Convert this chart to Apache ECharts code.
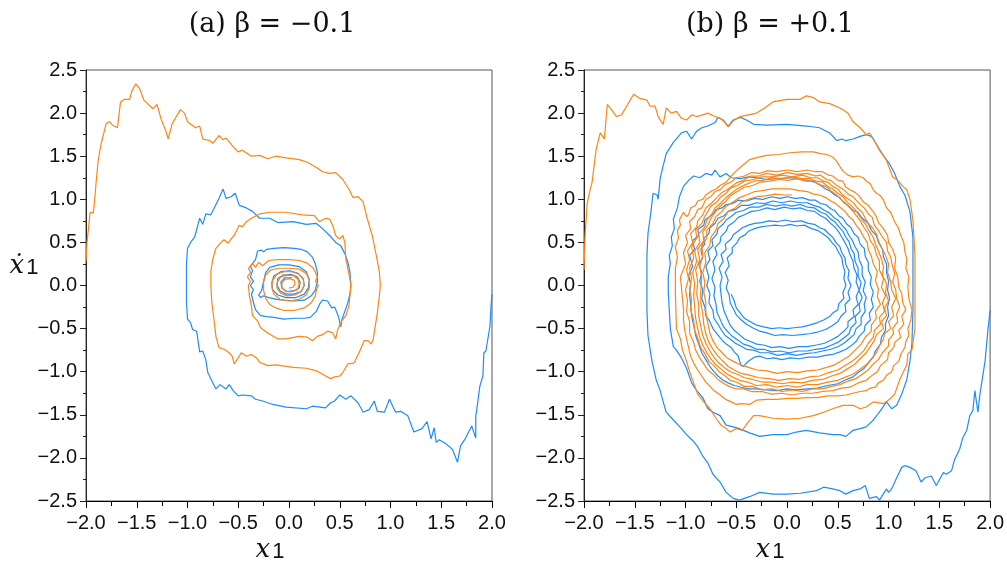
<!DOCTYPE html>
<html>
<head>
<meta charset="utf-8">
<script src="https://cdn.jsdelivr.net/npm/echarts@6/dist/echarts.min.js"></script>
<style>
  html, body { margin: 0; padding: 0; background: #fff; }
  #chart { width: 1007px; height: 569px; }
</style>
</head>
<body>
<div id="chart"></div>
<script>
// axis ticks
var xTicks = [-2.0, -1.5, -1.0, -0.5, 0.0, 0.5, 1.0, 1.5, 2.0];
var yTicks = [-2.5, -2.0, -1.5, -1.0, -0.5, 0.0, 0.5, 1.0, 1.5, 2.0, 2.5];
var panelTitles = ['(a) β = −0.1', '(b) β = +0.1'];

// (a) beta = -0.1, orange trajectory (x1, dx1)
var aOrange = [
  [-2.0,0.28],[-1.99,0.5],[-1.97,0.72],[-1.96,0.85],[-1.93,0.84],[-1.92,0.92],[-1.9,1.2],[-1.88,1.45],[-1.85,1.65],[-1.8,1.88],[-1.77,1.9],[-1.74,1.86],[-1.69,1.83],[-1.66,2.13],[-1.62,2.16],[-1.57,2.16],[-1.55,2.25],[-1.51,2.34],[-1.47,2.28],[-1.43,2.15],[-1.34,2.05],[-1.3,2.1],[-1.26,1.93],[-1.21,1.78],[-1.19,1.7],[-1.15,1.88],[-1.07,2.04],[-1.03,2.0],[-1.0,1.9],[-0.92,1.83],[-0.88,1.85],[-0.85,1.7],[-0.78,1.68],[-0.75,1.65],[-0.69,1.74],[-0.65,1.69],[-0.62,1.71],[-0.55,1.61],[-0.5,1.55],[-0.46,1.57],[-0.37,1.5],[-0.29,1.51],[-0.21,1.47],[-0.13,1.5],[-0.03,1.48],[0.1,1.46],[0.18,1.43],[0.27,1.37],[0.33,1.32],[0.4,1.3],[0.46,1.31],[0.53,1.23],[0.59,1.12],[0.63,1.02],[0.68,1.03],[0.73,0.97],[0.77,0.78],[0.82,0.58],[0.86,0.35],[0.89,0.16],[0.9,0.0],
  [0.89,-0.12],[0.87,-0.32],[0.83,-0.62],[0.81,-0.68],[0.78,-0.64],[0.74,-0.64],[0.69,-0.78],[0.64,-0.9],[0.58,-0.91],[0.53,-1.01],[0.5,-1.05],[0.45,-1.06],[0.41,-1.08],[0.36,-1.05],[0.3,-1.01],[0.27,-0.99],[0.17,-0.96],[0.04,-0.95],[-0.13,-0.92],[-0.21,-0.93],[-0.29,-0.89],[-0.32,-0.84],[-0.37,-0.8],[-0.42,-0.82],[-0.47,-0.78],[-0.5,-0.84],[-0.54,-0.91],[-0.56,-0.82],[-0.59,-0.78],[-0.64,-0.74],[-0.69,-0.72],[-0.72,-0.59],[-0.74,-0.39],[-0.76,-0.2],[-0.77,0.0],
  [-0.77,0.16],[-0.75,0.31],[-0.72,0.43],[-0.67,0.5],[-0.64,0.53],[-0.6,0.49],[-0.57,0.54],[-0.54,0.58],[-0.49,0.7],[-0.46,0.68],[-0.42,0.74],[-0.37,0.78],[-0.29,0.83],[-0.19,0.85],[-0.03,0.85],[0.13,0.82],[0.25,0.81],[0.3,0.74],[0.36,0.78],[0.4,0.77],[0.43,0.7],[0.46,0.58],[0.5,0.54],[0.53,0.58],[0.55,0.5],[0.56,0.31],[0.6,0.08],[0.61,-0.01],[0.59,-0.24],[0.56,-0.35],[0.52,-0.41],[0.48,-0.51],[0.46,-0.62],[0.43,-0.55],[0.38,-0.53],[0.33,-0.57],[0.28,-0.59],[0.23,-0.64],[0.18,-0.6],[0.1,-0.59],[-0.03,-0.62],[-0.11,-0.62],[-0.21,-0.55],[-0.28,-0.49],[-0.31,-0.41],[-0.36,-0.35],[-0.37,-0.24],[-0.39,-0.12],[-0.4,0.0],
  [-0.38,0.05],[-0.41,0.1],[-0.38,0.15],[-0.4,0.2],[-0.36,0.26],[-0.33,0.21],[-0.3,0.27],[-0.26,0.23],[-0.2,0.29],[-0.12,0.3],[0.0,0.3],[0.1,0.29],[0.18,0.26],[0.24,0.2],[0.26,0.15],[0.28,0.1],[0.26,0.05],[0.29,0.0],[0.27,-0.05],[0.26,-0.12],[0.22,-0.2],[0.15,-0.26],[0.05,-0.29],[-0.05,-0.29],[-0.13,-0.26],[-0.19,-0.22],[-0.23,-0.15],[-0.25,-0.06],
  [-0.25,0.04],[-0.23,0.12],[-0.18,0.18],[-0.1,0.2],[0.0,0.2],[0.1,0.19],[0.17,0.14],[0.2,0.06],[0.2,-0.03],[0.17,-0.11],[0.1,-0.16],[0.0,-0.18],[-0.09,-0.16],[-0.15,-0.1],[-0.17,-0.02],
  [-0.16,0.06],[-0.12,0.13],[-0.05,0.16],[0.03,0.16],[0.1,0.13],[0.14,0.07],[0.15,0.0],[0.12,-0.07],[0.06,-0.11],[-0.02,-0.12],[-0.08,-0.09],[-0.12,-0.03],
  [-0.11,0.05],[-0.08,0.1],[-0.02,0.12],[0.05,0.11],[0.09,0.07],[0.1,0.01],[0.08,-0.05],[0.03,-0.07],[-0.03,-0.07],[-0.07,-0.03],[-0.07,0.03],[-0.04,0.07],[0.01,0.08],[0.05,0.06],[0.06,0.02],[0.04,-0.02],[0.0,-0.03]
];

// (a) beta = -0.1, blue trajectory
var aBlue = [
  [2.0,-0.1],[1.99,-0.24],[1.98,-0.47],[1.94,-0.76],[1.92,-0.78],[1.91,-1.05],[1.88,-1.17],[1.86,-1.35],[1.84,-1.52],[1.84,-1.77],[1.8,-1.63],[1.74,-1.77],[1.69,-1.86],[1.66,-2.05],[1.61,-1.9],[1.55,-1.84],[1.48,-1.79],[1.45,-1.82],[1.43,-1.65],[1.4,-1.78],[1.36,-1.58],[1.31,-1.66],[1.23,-1.7],[1.17,-1.51],[1.1,-1.46],[1.05,-1.47],[0.99,-1.32],[0.94,-1.47],[0.87,-1.46],[0.84,-1.34],[0.79,-1.44],[0.73,-1.47],[0.68,-1.36],[0.61,-1.28],[0.56,-1.32],[0.5,-1.27],[0.45,-1.34],[0.41,-1.36],[0.36,-1.42],[0.23,-1.4],[0.17,-1.43],[-0.03,-1.41],[-0.16,-1.38],[-0.26,-1.34],[-0.33,-1.32],[-0.37,-1.28],[-0.46,-1.27],[-0.5,-1.28],[-0.55,-1.22],[-0.59,-1.15],[-0.62,-1.2],[-0.68,-1.15],[-0.72,-1.2],[-0.75,-1.13],[-0.8,-1.01],[-0.82,-0.86],[-0.85,-0.76],[-0.88,-0.77],[-0.91,-0.53],[-0.95,-0.51],[-0.97,-0.43],[-1.0,-0.39],[-1.01,-0.2],[-1.01,0.0],
  [-1.01,0.25],[-1.0,0.43],[-0.97,0.5],[-0.93,0.56],[-0.88,0.78],[-0.85,0.71],[-0.82,0.83],[-0.77,0.82],[-0.74,0.89],[-0.69,1.01],[-0.65,1.12],[-0.62,1.01],[-0.57,1.03],[-0.53,1.07],[-0.49,0.93],[-0.42,0.9],[-0.36,0.86],[-0.29,0.78],[-0.19,0.78],[-0.11,0.73],[0.04,0.74],[0.17,0.71],[0.27,0.72],[0.33,0.66],[0.4,0.58],[0.46,0.5],[0.51,0.46],[0.55,0.37],[0.58,0.27],[0.6,0.16],[0.61,0.0],
  [0.6,-0.1],[0.58,-0.2],[0.55,-0.3],[0.52,-0.4],[0.51,-0.48],[0.49,-0.37],[0.45,-0.25],[0.42,-0.26],[0.38,-0.18],[0.33,-0.17],[0.3,-0.22],[0.27,-0.3],[0.21,-0.37],[0.15,-0.38],[0.05,-0.38],[-0.05,-0.39],[-0.15,-0.37],[-0.22,-0.36],[-0.28,-0.35],[-0.33,-0.28],[-0.35,-0.2],
  [-0.37,-0.1],[-0.35,-0.05],[-0.38,0.0],[-0.35,0.05],[-0.38,0.1],[-0.36,0.17],[-0.38,0.22],[-0.35,0.27],[-0.33,0.3],[-0.32,0.35],[-0.31,0.4],[-0.27,0.41],[-0.25,0.39],[-0.22,0.42],[-0.15,0.43],[-0.05,0.44],[0.05,0.43],[0.12,0.42],[0.18,0.39],[0.23,0.33],[0.26,0.25],[0.28,0.15],[0.28,0.05],[0.26,-0.05],[0.22,-0.12],[0.15,-0.17],[0.05,-0.18],[-0.05,-0.17],[-0.12,-0.16],[-0.2,-0.14],[-0.25,-0.12],[-0.28,-0.14],[-0.3,-0.11],[-0.27,-0.06],
  [-0.25,0.05],[-0.23,0.15],[-0.19,0.21],[-0.1,0.24],[0.0,0.24],[0.1,0.22],[0.17,0.16],[0.2,0.07],[0.19,-0.03],[0.15,-0.1],[0.07,-0.14],[-0.03,-0.14],[-0.11,-0.11],[-0.16,-0.05],
  [-0.17,0.03],[-0.15,0.11],[-0.08,0.16],[0.01,0.17],[0.09,0.14],[0.14,0.08],[0.15,0.0],[0.12,-0.07],[0.05,-0.1],[-0.03,-0.1],[-0.09,-0.06],[-0.12,0.01],
  [-0.11,0.08],[-0.06,0.12],[0.02,0.13],[0.08,0.1],[0.11,0.04],[0.1,-0.03],[0.05,-0.06],[-0.02,-0.07],[-0.07,-0.03],[-0.08,0.04],[-0.04,0.09],[0.03,0.09]
];

// (b) beta = +0.1, orange trajectory
var bOrange = [
  [-2.0,0.18],[-1.99,0.56],[-1.97,0.94],[-1.94,1.11],[-1.92,1.2],[-1.88,1.58],[-1.84,1.77],[-1.8,1.7],[-1.77,2.1],[-1.73,2.04],[-1.68,1.96],[-1.63,1.98],[-1.58,2.08],[-1.51,2.22],[-1.45,2.17],[-1.38,2.15],[-1.35,2.08],[-1.3,2.08],[-1.27,1.96],[-1.22,1.87],[-1.19,2.06],[-1.14,2.0],[-1.09,2.02],[-1.04,1.94],[-0.99,1.92],[-0.94,1.98],[-0.89,1.96],[-0.83,1.98],[-0.78,2.0],[-0.71,1.96],[-0.66,1.94],[-0.61,1.89],[-0.58,1.84],[-0.53,1.91],[-0.46,1.96],[-0.38,1.98],[-0.3,2.0],[-0.22,2.06],[-0.14,2.13],[0.0,2.16],[0.13,2.16],[0.19,2.2],[0.26,2.18],[0.32,2.13],[0.42,2.11],[0.52,2.06],[0.6,2.0],[0.65,1.9],[0.72,1.83],[0.78,1.75],[0.81,1.77],[0.85,1.7],[0.91,1.57],[0.98,1.45],[1.04,1.26],[1.09,1.22],[1.14,1.15],[1.18,1.11],[1.21,1.0],[1.24,0.76],[1.26,0.35],[1.26,-0.07],[1.26,-0.5],[1.23,-0.75],[1.19,-0.79],[1.18,-0.92],[1.11,-1.09],[1.06,-1.26],[1.01,-1.32],[0.95,-1.37],[0.85,-1.35],[0.78,-1.41],[0.72,-1.43],[0.65,-1.39],[0.55,-1.39],[0.45,-1.43],[0.36,-1.47],[0.26,-1.51],[0.13,-1.54],[0.0,-1.55],[-0.14,-1.54],[-0.27,-1.51],[-0.33,-1.51],[-0.4,-1.61],[-0.44,-1.68],[-0.5,-1.66],[-0.56,-1.7],[-0.6,-1.66],[-0.65,-1.62],[-0.7,-1.54],[-0.76,-1.43],[-0.82,-1.35],[-0.88,-1.26],[-0.92,-1.13],[-0.96,-1.0],[-0.99,-0.88],[-1.03,-0.75],[-1.05,-0.62],[-1.09,-0.5],[-1.1,-0.07],
  [-1.1,0.2],[-1.08,0.33],[-1.1,0.45],[-1.07,0.55],[-1.08,0.64],[-1.05,0.7],[-1.06,0.76],[-1.02,0.85],[-0.99,0.8],[-0.97,0.82],[-0.95,0.9],[-0.9,0.93],[-0.88,0.98],[-0.83,1.0],[-0.8,1.05],[-0.74,1.1],[-0.7,1.12],[-0.66,1.16],[-0.6,1.2],[-0.55,1.27],[-0.5,1.33],[-0.45,1.38],[-0.37,1.46],[-0.28,1.49],[-0.2,1.51],[-0.08,1.52],[0.03,1.54],[0.15,1.55],[0.26,1.55],[0.33,1.53],[0.39,1.52],[0.45,1.49],[0.49,1.44],[0.52,1.38],[0.55,1.33],[0.6,1.28],[0.65,1.26],[0.7,1.27],[0.75,1.25],[0.78,1.21],[0.82,1.18],[0.85,1.11],[0.88,1.07],[0.92,1.04],[0.95,0.99],[0.98,0.9],[1.02,0.85],[1.06,0.74],[1.1,0.66],[1.12,0.58],[1.15,0.5],[1.16,0.4],[1.18,0.3],[1.17,0.2],[1.2,0.1],[1.19,-0.02],[1.2,-0.15],[1.23,-0.28],[1.22,-0.4],[1.19,-0.5],[1.2,-0.58],[1.17,-0.65],[1.16,-0.72],[1.12,-0.8],[1.1,-0.88],[1.05,-0.93],[1.03,-1.0],[0.98,-1.04],[0.95,-1.1],[0.9,-1.13],[0.87,-1.18],[0.82,-1.19],[0.78,-1.22],[0.72,-1.23],[0.65,-1.25],[0.58,-1.27],[0.5,-1.28],[0.4,-1.28],[0.3,-1.3],[0.2,-1.3],[0.1,-1.31],[0.0,-1.31],[-0.1,-1.32],[-0.2,-1.32],[-0.3,-1.33],[-0.37,-1.38],[-0.45,-1.37],[-0.5,-1.38],[-0.55,-1.35],[-0.59,-1.33],[-0.63,-1.3],[-0.68,-1.25],[-0.72,-1.22],[-0.76,-1.17],[-0.8,-1.12],[-0.84,-1.05],[-0.88,-0.98],[-0.92,-0.9],[-0.95,-0.82],[-0.97,-0.72],[-0.99,-0.62],[-1.01,-0.5],[-1.02,-0.4],[-1.02,-0.28],[-1.03,-0.15],
  [-1.05,0.1],[-1.0,0.25],[-1.02,0.38],[-0.98,0.5],[-1.0,0.58],[-0.95,0.66],[-0.96,0.74],[-0.91,0.8],[-0.88,0.88],[-0.84,0.9],[-0.8,1.0],[-0.75,1.03],[-0.71,1.09],[-0.66,1.11],[-0.61,1.17],[-0.55,1.2],[-0.5,1.25],[-0.42,1.27],[-0.35,1.31],[-0.27,1.3],[-0.2,1.33],[-0.1,1.32],[0.0,1.34],[0.1,1.32],[0.2,1.34],[0.28,1.32],[0.35,1.32],[0.41,1.28],[0.45,1.27],[0.5,1.22],[0.55,1.21],[0.58,1.14],[0.62,1.11],[0.67,1.08],[0.71,1.04],[0.75,0.97],[0.8,0.93],[0.84,0.87],[0.88,0.8],[0.9,0.73],[0.95,0.66],[0.99,0.58],[1.0,0.5],[1.04,0.42],[1.07,0.32],[1.06,0.2],[1.09,0.1],[1.1,-0.02],[1.13,-0.1],[1.14,-0.2],[1.17,-0.28],[1.13,-0.36],[1.15,-0.45],[1.1,-0.52],[1.12,-0.6],[1.06,-0.66],[1.05,-0.72],[1.0,-0.78],[0.99,-0.86],[0.92,-0.93],[0.89,-1.0],[0.84,-1.04],[0.78,-1.1],[0.7,-1.13],[0.62,-1.18],[0.54,-1.19],[0.45,-1.22],[0.35,-1.23],[0.25,-1.25],[0.15,-1.25],[0.05,-1.27],[-0.05,-1.25],[-0.15,-1.26],[-0.25,-1.23],[-0.35,-1.23],[-0.43,-1.2],[-0.5,-1.2],[-0.57,-1.17],[-0.62,-1.14],[-0.68,-1.09],[-0.72,-1.04],[-0.78,-0.98],[-0.82,-0.91],[-0.86,-0.84],[-0.9,-0.75],[-0.92,-0.66],[-0.96,-0.55],[-0.96,-0.42],[-0.99,-0.3],[-0.98,-0.18],[-1.0,-0.05],
  [-0.97,0.08],[-0.99,0.18],[-0.96,0.3],[-0.98,0.4],[-0.93,0.5],[-0.95,0.6],[-0.89,0.68],[-0.88,0.75],[-0.83,0.82],[-0.8,0.9],[-0.74,0.96],[-0.7,1.01],[-0.64,1.08],[-0.58,1.12],[-0.5,1.19],[-0.43,1.22],[-0.36,1.27],[-0.28,1.27],[-0.2,1.3],[-0.1,1.28],[0.0,1.31],[0.1,1.29],[0.2,1.3],[0.28,1.27],[0.33,1.28],[0.39,1.23],[0.43,1.22],[0.48,1.17],[0.52,1.14],[0.57,1.1],[0.6,1.06],[0.65,1.03],[0.68,0.99],[0.73,0.93],[0.76,0.9],[0.8,0.83],[0.84,0.79],[0.86,0.7],[0.9,0.64],[0.94,0.56],[0.98,0.5],[0.99,0.4],[1.02,0.33],[1.04,0.22],[1.06,0.14],[1.04,0.04],[1.07,-0.05],[1.08,-0.15],[1.11,-0.25],[1.08,-0.33],[1.09,-0.42],[1.04,-0.5],[1.05,-0.56],[1.0,-0.63],[1.0,-0.7],[0.94,-0.78],[0.9,-0.86],[0.85,-0.91],[0.8,-0.98],[0.74,-1.03],[0.68,-1.08],[0.6,-1.11],[0.52,-1.15],[0.44,-1.17],[0.35,-1.2],[0.25,-1.2],[0.15,-1.23],[0.05,-1.21],[-0.05,-1.23],[-0.15,-1.2],[-0.25,-1.21],[-0.34,-1.17],[-0.42,-1.17],[-0.5,-1.12],[-0.56,-1.1],[-0.62,-1.04],[-0.67,-1.0],[-0.72,-0.93],[-0.77,-0.88],[-0.81,-0.79],[-0.85,-0.72],[-0.88,-0.61],[-0.91,-0.52],[-0.92,-0.4],[-0.95,-0.28],[-0.94,-0.16],[-0.96,-0.05],
  [-0.94,0.08],[-0.96,0.2],[-0.92,0.32],[-0.94,0.45],[-0.89,0.55],[-0.9,0.65],[-0.84,0.72],[-0.81,0.8],[-0.78,0.86],[-0.75,0.92],[-0.69,0.97],[-0.65,1.03],[-0.6,1.07],[-0.56,1.13],[-0.49,1.16],[-0.42,1.21],[-0.33,1.23],[-0.25,1.26],[-0.15,1.26],[-0.05,1.28],[0.05,1.26],[0.15,1.28],[0.23,1.25],[0.3,1.25],[0.36,1.21],[0.4,1.2],[0.45,1.15],[0.5,1.12],[0.54,1.06],[0.58,1.02],[0.62,0.99],[0.66,0.95],[0.7,0.89],[0.74,0.85],[0.77,0.78],[0.8,0.72],[0.84,0.67],[0.88,0.6],[0.9,0.52],[0.93,0.44],[0.97,0.35],[1.0,0.25],[0.99,0.15],[1.02,0.05],[1.03,-0.05],[1.07,-0.15],[1.03,-0.25],[1.05,-0.35],[1.0,-0.42],[1.02,-0.5],[0.96,-0.56],[0.95,-0.62],[0.91,-0.7],[0.88,-0.78],[0.83,-0.85],[0.78,-0.92],[0.72,-0.97],[0.65,-1.03],[0.58,-1.06],[0.5,-1.1],[0.4,-1.12],[0.3,-1.15],[0.2,-1.15],[0.1,-1.18],[0.0,-1.16],[-0.1,-1.18],[-0.2,-1.15],[-0.3,-1.16],[-0.39,-1.12],[-0.47,-1.1],[-0.54,-1.06],[-0.6,-1.02],[-0.65,-0.97],[-0.7,-0.92],[-0.75,-0.85],[-0.79,-0.78],[-0.83,-0.69],[-0.86,-0.6],[-0.88,-0.5],[-0.9,-0.38],[-0.91,-0.25],[-0.92,-0.12],
  [-0.91,0.02],[-0.93,0.15],[-0.89,0.28],[-0.91,0.4],[-0.86,0.5],[-0.87,0.6],[-0.81,0.68],[-0.79,0.76],[-0.74,0.83],[-0.71,0.9],[-0.65,0.96],[-0.6,1.02],[-0.54,1.08],[-0.48,1.13],[-0.41,1.17],[-0.33,1.21],[-0.24,1.22],[-0.15,1.25],[-0.05,1.24],[0.05,1.26],[0.14,1.24],[0.22,1.24],[0.29,1.21],[0.35,1.2],[0.4,1.15],[0.45,1.12],[0.5,1.07],[0.55,1.03],[0.59,0.97],[0.63,0.93],[0.67,0.88],[0.7,0.83],[0.74,0.76],[0.78,0.7],[0.81,0.63],[0.85,0.56],[0.87,0.48],[0.9,0.4],[0.93,0.31],[0.95,0.22],[0.94,0.12],[0.98,0.02],[0.97,-0.08],[1.0,-0.18],[0.96,-0.26],[0.98,-0.35],[0.93,-0.42],[0.95,-0.5],[0.88,-0.57],[0.86,-0.64],[0.82,-0.71],[0.78,-0.78],[0.72,-0.85],[0.66,-0.92],[0.59,-0.97],[0.52,-1.02],[0.44,-1.05],[0.35,-1.09],[0.25,-1.1],[0.15,-1.13],[0.05,-1.12],[-0.05,-1.14],[-0.15,-1.12],[-0.25,-1.12],[-0.34,-1.09],[-0.42,-1.07],[-0.49,-1.03],[-0.56,-1.0],[-0.62,-0.95],[-0.67,-0.9],[-0.72,-0.83],[-0.76,-0.76],[-0.8,-0.67],[-0.83,-0.58],[-0.85,-0.47],[-0.87,-0.35],[-0.87,-0.22],[-0.89,-0.1],
  [-0.88,0.05],[-0.9,0.18],[-0.86,0.3],[-0.88,0.42],[-0.82,0.52],[-0.83,0.62],[-0.78,0.7],[-0.75,0.78],[-0.7,0.86],[-0.66,0.92],[-0.6,0.98],[-0.56,1.04],[-0.49,1.09],[-0.42,1.14],[-0.34,1.16],[-0.26,1.2],[-0.17,1.21],[-0.08,1.23],[0.01,1.22],[0.1,1.24],[0.18,1.21],[0.26,1.21],[0.32,1.17],[0.38,1.15],[0.43,1.1],[0.48,1.06],[0.52,1.01],[0.57,0.96],[0.61,0.91],[0.65,0.86],[0.69,0.8],[0.72,0.75],[0.76,0.67],[0.8,0.6],[0.82,0.52],[0.86,0.45],[0.88,0.36],[0.91,0.28],[0.91,0.18],[0.95,0.08],[0.93,-0.02],[0.97,-0.12],[0.94,-0.2],[0.96,-0.3],[0.91,-0.37],[0.92,-0.45],[0.86,-0.52],[0.85,-0.6],[0.8,-0.67],[0.76,-0.75],[0.7,-0.82],[0.64,-0.88],[0.57,-0.93],[0.5,-0.98],[0.41,-1.01],[0.32,-1.05],[0.22,-1.06],[0.12,-1.09],[0.02,-1.08],[-0.08,-1.1],[-0.18,-1.08],[-0.28,-1.07],[-0.37,-1.04],[-0.45,-1.02],[-0.52,-0.98],[-0.58,-0.94],[-0.63,-0.88],[-0.68,-0.82],[-0.73,-0.74],[-0.77,-0.66],[-0.8,-0.56],[-0.82,-0.45],[-0.83,-0.33],[-0.85,-0.2],[-0.85,-0.07],
  [-0.84,0.1],[-0.86,0.22],[-0.83,0.35],[-0.84,0.46],[-0.79,0.55],[-0.79,0.64],[-0.73,0.72],[-0.7,0.8],[-0.64,0.86],[-0.6,0.92],[-0.53,0.97],[-0.47,1.02],[-0.4,1.05],[-0.32,1.09],[-0.24,1.1],[-0.15,1.12],[-0.06,1.12],[0.03,1.12],[0.12,1.1],[0.2,1.09],[0.26,1.06],[0.32,1.05],[0.38,1.02],[0.43,0.98],[0.48,0.95],[0.53,0.9],[0.57,0.86],[0.61,0.8],[0.65,0.76],[0.68,0.7],[0.72,0.64],[0.75,0.57],[0.79,0.5],[0.8,0.42],[0.83,0.34],[0.85,0.25],[0.89,0.16],[0.87,0.06],[0.9,-0.04],[0.89,-0.13],[0.92,-0.22],[0.87,-0.3],[0.88,-0.38],[0.83,-0.46],[0.83,-0.53],[0.77,-0.6],[0.73,-0.68],[0.67,-0.75],[0.61,-0.82],[0.54,-0.87],[0.47,-0.92],[0.39,-0.95],[0.3,-0.98],[0.2,-0.99],[0.1,-1.01],[0.0,-1.0],[-0.1,-1.02],[-0.2,-0.99],[-0.3,-0.98],[-0.38,-0.95],[-0.46,-0.92],[-0.53,-0.88],[-0.59,-0.84],[-0.64,-0.78],[-0.69,-0.72],[-0.73,-0.64],[-0.76,-0.55],[-0.78,-0.44],[-0.8,-0.32],[-0.8,-0.2],[-0.82,-0.08],[-0.81,0.04],[-0.83,0.15],[-0.8,0.27],[-0.81,0.38],[-0.76,0.47],[-0.75,0.56],[-0.7,0.64],[-0.68,0.72],[-0.62,0.78],[-0.58,0.86],[-0.51,0.9],[-0.45,0.97],[-0.38,1.0],[-0.3,1.03],[-0.21,1.04],[-0.12,1.06],[-0.03,1.05],[0.05,1.05]
];

// (b) beta = +0.1, blue trajectory
var bBlue = [
  [2.0,-0.29],[1.98,-0.5],[1.95,-0.88],[1.9,-1.26],[1.88,-1.47],[1.85,-1.22],[1.83,-1.45],[1.8,-1.51],[1.77,-1.68],[1.73,-1.77],[1.7,-1.9],[1.65,-2.02],[1.62,-2.15],[1.57,-2.19],[1.54,-2.17],[1.47,-2.32],[1.42,-2.21],[1.36,-2.23],[1.32,-2.28],[1.27,-2.15],[1.21,-2.11],[1.16,-2.09],[1.13,-2.11],[1.08,-2.23],[1.03,-2.36],[1.0,-2.4],[0.98,-2.36],[0.91,-2.49],[0.88,-2.45],[0.81,-2.47],[0.77,-2.32],[0.72,-2.36],[0.65,-2.38],[0.58,-2.42],[0.52,-2.38],[0.45,-2.36],[0.36,-2.34],[0.29,-2.38],[0.13,-2.41],[0.0,-2.42],[-0.14,-2.42],[-0.27,-2.4],[-0.37,-2.45],[-0.47,-2.49],[-0.53,-2.47],[-0.6,-2.4],[-0.66,-2.28],[-0.73,-2.19],[-0.78,-2.06],[-0.83,-1.98],[-0.88,-1.87],[-0.92,-1.81],[-0.99,-1.73],[-1.04,-1.66],[-1.12,-1.56],[-1.19,-1.47],[-1.22,-1.35],[-1.25,-1.22],[-1.29,-1.09],[-1.33,-0.88],[-1.37,-0.58],[-1.38,-0.29],[-1.38,0.35],[-1.37,0.6],[-1.34,0.86],[-1.32,1.07],[-1.28,1.05],[-1.27,1.0],[-1.25,1.24],[-1.22,1.39],[-1.19,1.53],[-1.12,1.66],[-1.04,1.77],[-0.99,1.79],[-0.94,1.7],[-0.89,1.79],[-0.84,1.83],[-0.78,1.85],[-0.71,1.89],[-0.68,1.95],[-0.63,1.92],[-0.58,1.85],[-0.53,1.92],[-0.46,1.95],[-0.4,1.92],[-0.33,1.87],[-0.2,1.86],[0.0,1.87],[0.19,1.85],[0.32,1.83],[0.42,1.77],[0.49,1.68],[0.54,1.7],[0.58,1.68],[0.65,1.7],[0.72,1.73],[0.78,1.75],[0.83,1.73],[0.86,1.68],[0.91,1.58],[0.96,1.49],[1.01,1.41],[1.06,1.3],[1.11,1.15],[1.16,1.05],[1.21,0.86],[1.24,0.56],[1.24,0.14],[1.24,-0.29],[1.23,-0.67],[1.21,-0.88],[1.18,-1.09],[1.13,-1.26],[1.08,-1.39],[1.03,-1.43],[0.98,-1.35],[0.91,-1.47],[0.85,-1.56],[0.78,-1.64],[0.72,-1.66],[0.65,-1.68],[0.58,-1.75],[0.52,-1.73],[0.45,-1.73],[0.32,-1.71],[0.19,-1.68],[0.09,-1.7],[0.0,-1.73],[-0.14,-1.73],[-0.27,-1.75],[-0.37,-1.71],[-0.47,-1.66],[-0.53,-1.64],[-0.6,-1.62],[-0.66,-1.51],[-0.73,-1.47],[-0.78,-1.43],[-0.83,-1.3],[-0.86,-1.26],[-0.89,-1.22],[-0.94,-1.13],[-0.99,-0.96],[-1.04,-0.84],[-1.09,-0.75],[-1.12,-0.71],[-1.15,-0.5],[-1.17,-0.07],
  [-1.17,0.1],[-1.15,0.25],[-1.16,0.35],[-1.13,0.46],[-1.14,0.56],[-1.11,0.66],[-1.12,0.77],[-1.08,0.9],[-1.06,1.03],[-1.02,1.15],[-0.97,1.22],[-0.92,1.27],[-0.86,1.25],[-0.8,1.3],[-0.74,1.28],[-0.71,1.34],[-0.66,1.26],[-0.6,1.3],[-0.55,1.25],[-0.46,1.24],[-0.38,1.26],[-0.3,1.25],[-0.2,1.23],[-0.1,1.24],[0.05,1.25],[0.14,1.23],[0.2,1.22],[0.27,1.2],[0.32,1.17],[0.38,1.12],[0.42,1.1],[0.47,1.05],[0.52,1.02],[0.56,0.96],[0.6,0.93],[0.65,0.87],[0.7,0.85],[0.74,0.78],[0.8,0.72],[0.83,0.64],[0.88,0.58],[0.9,0.5],[0.94,0.42],[0.95,0.33],[0.98,0.25],[0.98,0.15],[1.0,0.05],[0.99,-0.05],[1.01,-0.15],[0.99,-0.25],[1.0,-0.35],[0.97,-0.44],[0.97,-0.52],[0.93,-0.6],[0.92,-0.68],[0.87,-0.76],[0.85,-0.83],[0.8,-0.9],[0.76,-0.96],[0.7,-1.01],[0.65,-1.06],[0.57,-1.1],[0.5,-1.14],[0.4,-1.16],[0.3,-1.19],[0.2,-1.2],[0.1,-1.21],[0.0,-1.2],[-0.1,-1.22],[-0.2,-1.21],[-0.3,-1.2],[-0.38,-1.2],[-0.45,-1.18],[-0.52,-1.16],[-0.58,-1.13],[-0.63,-1.1],[-0.68,-1.05],[-0.72,-1.0],[-0.76,-0.94],[-0.8,-0.86],[-0.84,-0.78],[-0.87,-0.68],[-0.9,-0.58],[-0.92,-0.46],[-0.94,-0.35],[-0.95,-0.22],[-0.96,-0.1],
  [-0.95,0.02],[-0.97,0.12],[-0.93,0.22],[-0.96,0.35],[-0.91,0.42],[-0.93,0.52],[-0.87,0.58],[-0.88,0.65],[-0.82,0.7],[-0.81,0.76],[-0.76,0.8],[-0.72,0.84],[-0.7,0.88],[-0.64,0.9],[-0.6,0.94],[-0.54,0.95],[-0.48,0.99],[-0.4,0.98],[-0.32,1.01],[-0.24,1.0],[-0.15,1.03],[-0.07,1.01],[0.0,1.03],[0.08,1.01],[0.15,1.02],[0.22,0.99],[0.28,0.99],[0.33,0.95],[0.38,0.94],[0.43,0.89],[0.47,0.87],[0.51,0.81],[0.55,0.78],[0.59,0.71],[0.63,0.67],[0.66,0.6],[0.7,0.56],[0.72,0.48],[0.76,0.43],[0.77,0.34],[0.8,0.27],[0.8,0.18],[0.83,0.1],[0.82,0.01],[0.85,-0.08],[0.83,-0.16],[0.85,-0.25],[0.81,-0.32],[0.82,-0.4],[0.77,-0.46],[0.76,-0.53],[0.71,-0.59],[0.68,-0.65],[0.63,-0.7],[0.58,-0.74],[0.52,-0.77],[0.45,-0.8],[0.38,-0.81],[0.3,-0.83],[0.21,-0.83],[0.12,-0.85],[0.03,-0.84],[-0.05,-0.86],[-0.13,-0.84],[-0.2,-0.85],[-0.27,-0.82],[-0.32,-0.83],[-0.37,-0.87],[-0.4,-0.9],[-0.43,-0.94],[-0.45,-0.93],[-0.47,-0.87],[-0.48,-0.82],[-0.52,-0.77],[-0.55,-0.72],[-0.6,-0.68],[-0.65,-0.62],[-0.69,-0.56],[-0.73,-0.5],[-0.76,-0.42],[-0.8,-0.35],[-0.81,-0.25],[-0.84,-0.15],[-0.83,-0.05],
  [-0.86,0.05],[-0.84,0.15],[-0.87,0.25],[-0.83,0.32],[-0.85,0.42],[-0.81,0.48],[-0.82,0.55],[-0.77,0.6],[-0.76,0.67],[-0.71,0.72],[-0.68,0.78],[-0.62,0.81],[-0.58,0.86],[-0.51,0.88],[-0.45,0.93],[-0.38,0.93],[-0.3,0.96],[-0.22,0.95],[-0.14,0.98],[-0.05,0.96],[0.03,0.98],[0.12,0.96],[0.2,0.96],[0.26,0.93],[0.32,0.91],[0.37,0.87],[0.42,0.84],[0.46,0.79],[0.5,0.76],[0.54,0.7],[0.58,0.65],[0.61,0.58],[0.64,0.53],[0.67,0.45],[0.7,0.39],[0.71,0.3],[0.74,0.22],[0.74,0.12],[0.77,0.04],[0.75,-0.06],[0.78,-0.14],[0.76,-0.22],[0.77,-0.3],[0.73,-0.37],[0.73,-0.45],[0.68,-0.5],[0.66,-0.57],[0.61,-0.62],[0.56,-0.67],[0.5,-0.71],[0.43,-0.74],[0.35,-0.76],[0.27,-0.78],[0.18,-0.79],[0.09,-0.81],[0.0,-0.79],[-0.09,-0.81],[-0.18,-0.78],[-0.26,-0.78],[-0.33,-0.75],[-0.4,-0.74],[-0.46,-0.7],[-0.51,-0.67],[-0.56,-0.62],[-0.61,-0.58],[-0.65,-0.51],[-0.68,-0.45],[-0.72,-0.38],[-0.73,-0.29],[-0.77,-0.2],[-0.76,-0.1],
  [-0.79,0.0],[-0.77,0.1],[-0.8,0.22],[-0.76,0.3],[-0.78,0.4],[-0.73,0.46],[-0.74,0.53],[-0.69,0.6],[-0.68,0.66],[-0.63,0.71],[-0.6,0.76],[-0.55,0.8],[-0.5,0.85],[-0.43,0.87],[-0.36,0.91],[-0.28,0.91],[-0.2,0.94],[-0.11,0.92],[-0.03,0.94],[0.05,0.92],[0.13,0.94],[0.2,0.91],[0.27,0.9],[0.33,0.85],[0.38,0.83],[0.43,0.77],[0.47,0.74],[0.51,0.68],[0.55,0.63],[0.58,0.56],[0.61,0.51],[0.63,0.43],[0.66,0.37],[0.67,0.28],[0.7,0.2],[0.7,0.11],[0.73,0.03],[0.71,-0.06],[0.74,-0.14],[0.71,-0.22],[0.72,-0.3],[0.67,-0.36],[0.68,-0.43],[0.63,-0.49],[0.61,-0.56],[0.56,-0.61],[0.5,-0.66],[0.44,-0.69],[0.36,-0.73],[0.28,-0.74],[0.2,-0.76],[0.11,-0.76],[0.02,-0.78],[-0.07,-0.76],[-0.15,-0.77],[-0.23,-0.74],[-0.3,-0.74],[-0.37,-0.7],[-0.43,-0.68],[-0.49,-0.63],[-0.54,-0.59],[-0.59,-0.53],[-0.63,-0.47],[-0.66,-0.39],[-0.69,-0.31],[-0.7,-0.22],[-0.72,-0.12],
  [-0.71,-0.02],[-0.74,0.08],[-0.71,0.18],[-0.73,0.28],[-0.69,0.36],[-0.71,0.44],[-0.66,0.5],[-0.65,0.57],[-0.6,0.63],[-0.58,0.69],[-0.52,0.74],[-0.48,0.79],[-0.42,0.82],[-0.35,0.86],[-0.28,0.87],[-0.2,0.9],[-0.12,0.88],[-0.03,0.91],[0.05,0.89],[0.13,0.9],[0.2,0.87],[0.27,0.86],[0.33,0.81],[0.38,0.78],[0.43,0.72],[0.47,0.68],[0.51,0.62],[0.54,0.56],[0.57,0.5],[0.6,0.43],[0.62,0.36],[0.65,0.28],[0.66,0.2],[0.69,0.12],[0.68,0.04],[0.71,-0.05],[0.68,-0.13],[0.7,-0.22],[0.65,-0.28],[0.66,-0.36],[0.6,-0.42],[0.6,-0.48],[0.55,-0.54],[0.5,-0.59],[0.44,-0.63],[0.37,-0.67],[0.29,-0.69],[0.2,-0.71],[0.11,-0.71],[0.02,-0.73],[-0.07,-0.71],[-0.15,-0.72],[-0.23,-0.69],[-0.3,-0.68],[-0.36,-0.65],[-0.42,-0.62],[-0.47,-0.57],[-0.52,-0.52],[-0.56,-0.46],[-0.59,-0.38],[-0.62,-0.3],[-0.64,-0.2],[-0.65,-0.1],[-0.66,0.0],
  [-0.64,0.1],[-0.67,0.2],[-0.63,0.28],[-0.65,0.36],[-0.6,0.42],[-0.61,0.48],[-0.55,0.54],[-0.53,0.59],[-0.47,0.64],[-0.44,0.67],[-0.38,0.7],[-0.32,0.72],[-0.25,0.73],[-0.18,0.75],[-0.1,0.74],[-0.02,0.76],[0.06,0.74],[0.14,0.75],[0.21,0.72],[0.27,0.71],[0.32,0.67],[0.37,0.65],[0.41,0.6],[0.45,0.56],[0.48,0.5],[0.52,0.45],[0.54,0.38],[0.57,0.32],[0.58,0.24],[0.61,0.17],[0.6,0.08],[0.63,0.0],[0.6,-0.08],[0.62,-0.16],[0.57,-0.22],[0.58,-0.3],[0.53,-0.36],[0.5,-0.42],[0.44,-0.47],[0.38,-0.51],[0.3,-0.54],[0.22,-0.56],[0.14,-0.57],[0.05,-0.58],[-0.04,-0.57],[-0.12,-0.58],[-0.2,-0.55],[-0.27,-0.53],[-0.34,-0.49],[-0.4,-0.45],[-0.45,-0.4],[-0.5,-0.34],[-0.53,-0.27],[-0.56,-0.2],[-0.57,-0.11],[-0.6,-0.03],
  [-0.58,0.06],[-0.61,0.15],[-0.57,0.23],[-0.59,0.32],[-0.54,0.38],[-0.54,0.44],[-0.49,0.5],[-0.47,0.55],[-0.41,0.59],[-0.38,0.63],[-0.32,0.66],[-0.26,0.68],[-0.19,0.69],[-0.12,0.7],[-0.04,0.69],[0.03,0.71],[0.1,0.69],[0.17,0.7],[0.24,0.66],[0.3,0.64],[0.35,0.6],[0.4,0.56],[0.44,0.5],[0.48,0.45],[0.51,0.38],[0.54,0.32],[0.55,0.24],[0.57,0.16],[0.56,0.08],[0.58,0.0],[0.55,-0.08],[0.56,-0.15],[0.51,-0.21],[0.5,-0.28],[0.45,-0.32],[0.42,-0.36],[0.36,-0.4],[0.3,-0.43],[0.22,-0.46],[0.15,-0.48],[0.07,-0.49],[0.0,-0.5],[-0.08,-0.49],[-0.15,-0.5],[-0.23,-0.48],[-0.3,-0.46],[-0.36,-0.42],[-0.42,-0.38],[-0.46,-0.32],[-0.5,-0.26],[-0.52,-0.18],[-0.55,-0.1]
];

var BLUE = '#1E8CFA';
var ORANGE = '#FF8514';

var chart = echarts.init(document.getElementById('chart'));

function fmt(v) {
  return v.toFixed(1).replace('-', '\u2212');
}

function xAxisFor(i) {
  return {
    type: 'value', gridIndex: i, min: xTicks[0], max: xTicks[xTicks.length - 1], interval: 0.5,
    axisLine: { onZero: false, lineStyle: { color: '#000', width: 1 } },
    axisTick: { length: 7, lineStyle: { color: '#000' } },
    minorTick: { show: true, splitNumber: 2, length: 5, lineStyle: { color: '#000' } },
    splitLine: { show: false },
    axisLabel: { fontSize: 20, color: '#111', margin: 12, fontFamily: 'Liberation Sans', formatter: fmt }
  };
}

function yAxisFor(i) {
  return {
    type: 'value', gridIndex: i, min: yTicks[0], max: yTicks[yTicks.length - 1], interval: 0.5,
    axisLine: { onZero: false, lineStyle: { color: '#222', width: 1 } },
    axisTick: { length: 6, lineStyle: { color: '#222' } },
    minorTick: { show: true, splitNumber: 2, length: 3, lineStyle: { color: '#222' } },
    splitLine: { show: false },
    axisLabel: { fontSize: 20, color: '#111', margin: 9, fontFamily: 'Liberation Sans', formatter: fmt }
  };
}

// x1 / dx1 labels, the 1 set as a subscript
var symRich = {
  v: { fontFamily: 'DejaVu Serif', fontStyle: 'italic', fontSize: 26, lineHeight: 30, verticalAlign: 'middle', fill: '#111' },
  s: { fontFamily: 'Liberation Sans', fontSize: 22, lineHeight: 26, verticalAlign: 'middle', padding: [4, 0, 0, 2], fill: '#111' }
};

function label(x, y, str, rich, font) {
  return {
    type: 'text', x: x, y: y, silent: true,
    style: { text: str, rich: rich, font: font, fill: '#111', align: 'center', verticalAlign: 'middle' }
  };
}

var option = {
  backgroundColor: '#fff',
  animation: false,
  grid: [
    { left: 86, top: 70, width: 406, height: 431, show: true, borderColor: '#555', borderWidth: 1 },
    { left: 584, top: 70, width: 407, height: 431, show: true, borderColor: '#555', borderWidth: 1 }
  ],
  xAxis: [xAxisFor(0), xAxisFor(1)],
  yAxis: [yAxisFor(0), yAxisFor(1)],
  series: [
    { type: 'line', xAxisIndex: 0, yAxisIndex: 0, data: aBlue, showSymbol: false, lineStyle: { color: BLUE, width: 1.2 } },
    { type: 'line', xAxisIndex: 0, yAxisIndex: 0, data: aOrange, showSymbol: false, lineStyle: { color: ORANGE, width: 1.2 } },
    { type: 'line', xAxisIndex: 1, yAxisIndex: 1, data: bBlue, showSymbol: false, lineStyle: { color: BLUE, width: 1.2 } },
    { type: 'line', xAxisIndex: 1, yAxisIndex: 1, data: bOrange, showSymbol: false, lineStyle: { color: ORANGE, width: 1.2 } }
  ],
  graphic: [
    label(272, 25, panelTitles[0], null, '27px "DejaVu Serif"'),
    label(770, 25, panelTitles[1], null, '27px "DejaVu Serif"'),
    label(24, 266, '{v|\u1E8B}{s|1}', symRich),
    label(270, 550, '{v|x}{s|1}', symRich),
    label(770, 550, '{v|x}{s|1}', symRich)
  ]
};

chart.setOption(option);
</script>
</body>
</html>
